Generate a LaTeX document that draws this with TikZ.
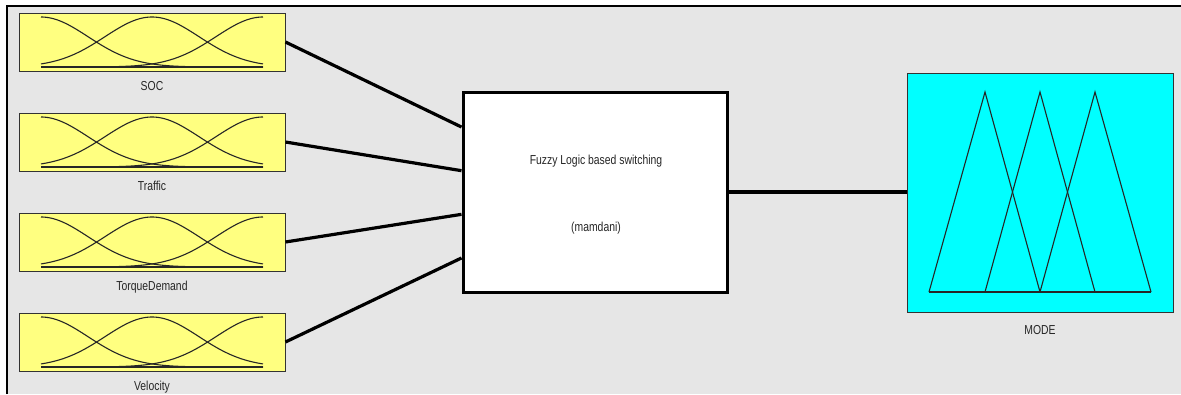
\documentclass[tikz,border=0pt]{standalone}
\usepackage{fontspec}
\newfontfamily\lblfont[FakeStretch=0.8]{Liberation Sans}
\usetikzlibrary{calc}
\definecolor{bggray}{HTML}{E6E6E6}
\definecolor{mfyellow}{HTML}{FFFF80}
\definecolor{mfcyan}{HTML}{00FFFF}
\begin{document}
\begin{tikzpicture}[x=1pt,y=-1pt,
  inbox/.style={draw=black!80, line width=0.9pt, fill=mfyellow, minimum width=266pt, minimum height=58pt, inner sep=0pt},
  outbox/.style={draw=black!80, line width=0.9pt, fill=mfcyan, minimum width=266pt, minimum height=239pt, inner sep=0pt},
  flsbox/.style={draw=black, line width=3pt, fill=white, minimum width=264pt, minimum height=200pt, inner sep=0pt},
  lbl/.style={font=\lblfont\fontsize{13}{15}\selectfont, text=black!85, anchor=base, inner sep=0pt},
  mfline/.style={draw=black!85, line width=1.1pt},
  conn/.style={draw=black, line width=3.2pt}]
\useasboundingbox (0,0) rectangle (1181,394);
\fill[white] (0,0) rectangle (1181,394);
\fill[bggray] (7,5.5) rectangle (1181,394);
\draw[line width=2pt] (7,394) -- (7,5.5) -- (1181,5.5);

% input membership-function boxes
\foreach \n/\t/\cy in {soc/SOC/42, traffic/Traffic/142, torque/TorqueDemand/242, vel/Velocity/342} {
  \node[inbox] (\n) at (152,\cy) {};
  \foreach \c in {41,152,263}
    \draw[mfline] plot[domain=41:263, samples=90, smooth] (\x, {\cy+25-50*exp(-0.5*((\x-\c)/47)^2)});
  \draw[mfline] (41,\cy+25) -- (263,\cy+25);
  \node[lbl] (\n-lbl) at (152,\cy+48.5) {\t};
}

% central FIS box
\node[flsbox] (fls) at (595,192) {};
\node[lbl] (flstitle) at (596,164) {Fuzzy Logic based switching};
\node[lbl] (flstype) at (596,231) {(mamdani)};

% output box
\node[outbox] (mode) at (1040,192.5) {};
\draw[mfline] (929,292) -- (985,92) -- (1040,292);
\draw[mfline] (985,292) -- (1040,92) -- (1095,292);
\draw[mfline] (1040,292) -- (1095,92) -- (1151,292);
\draw[mfline] (929,292) -- (1151,292);
\node[lbl] (mode-lbl) at (1040,334) {MODE};

% connectors
\draw[conn] (soc.east) -- ($(fls.north west)!0.18!(fls.south west)$);
\draw[conn] (traffic.east) -- ($(fls.north west)!0.395!(fls.south west)$);
\draw[conn] (torque.east) -- ($(fls.north west)!0.61!(fls.south west)$);
\draw[conn] (vel.east) -- ($(fls.north west)!0.825!(fls.south west)$);
\draw[conn] (fls.east) -- (fls.east -| mode.west);
\end{tikzpicture}
\end{document}
